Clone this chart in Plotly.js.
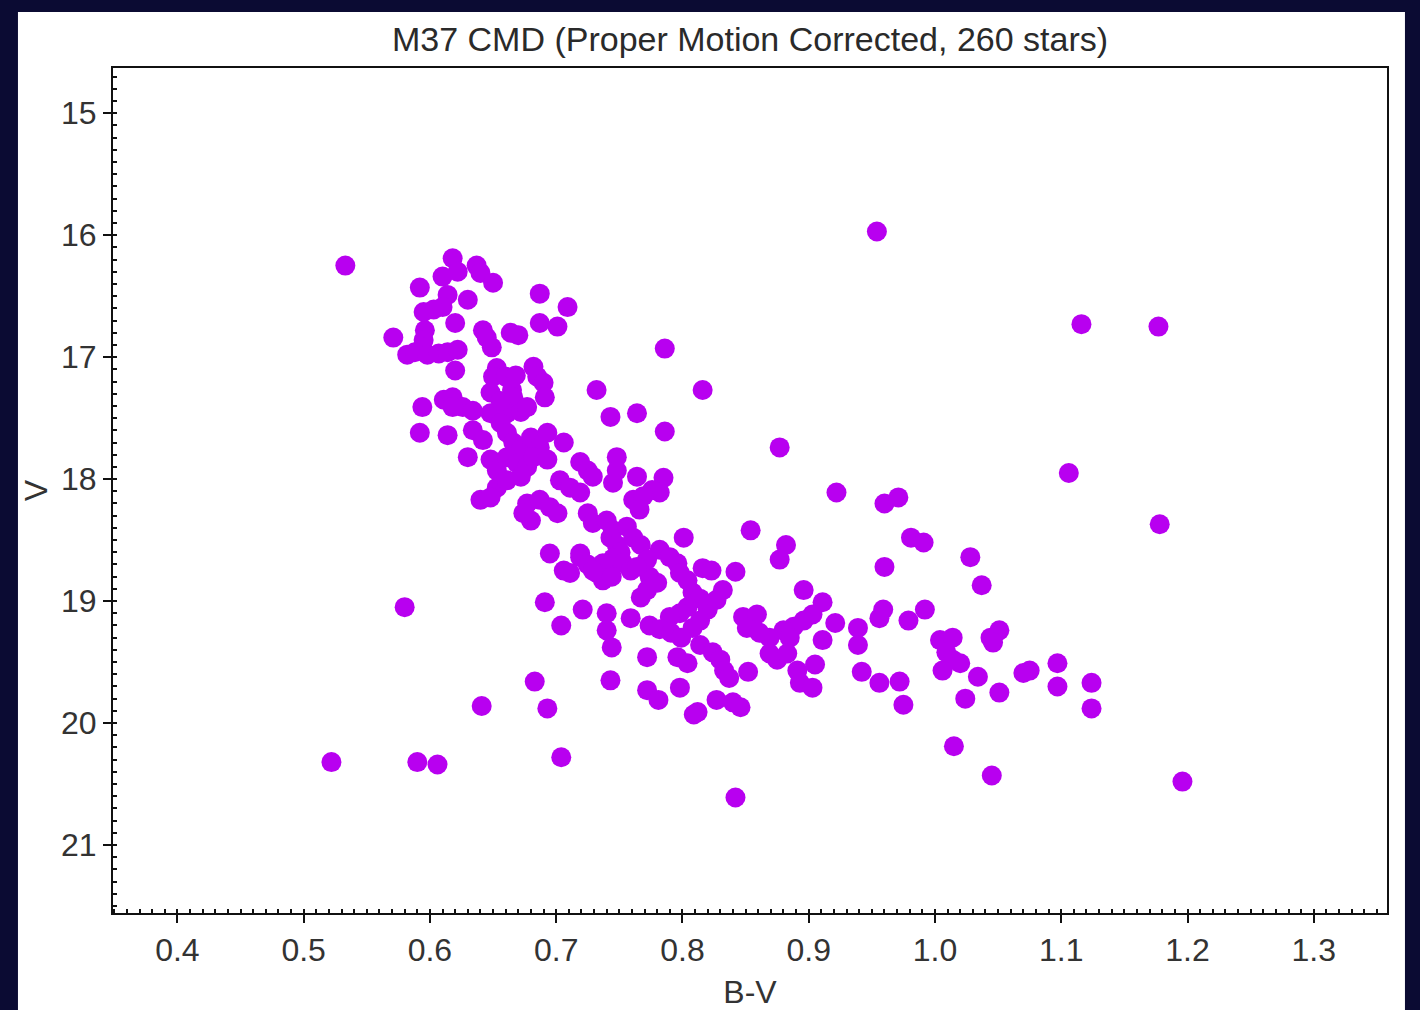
<!DOCTYPE html>
<html>
<head>
<meta charset="utf-8">
<script src="https://cdn.plot.ly/plotly-3.0.1.min.js"></script>
<style>
html,body{margin:0;padding:0;background:#0b0b33;}
#chart{width:1420px;height:1010px;}
</style>
</head>
<body>
<div id="chart"></div>
<script>
// B-V colour index of each star
var bv = [
0.618,0.622,0.637,0.640,0.650,0.610,0.592,0.614,0.630,0.610,0.603,0.595,0.687,0.709,0.620,0.687,0.701,0.642,0.645,0.649,
0.664,0.670,0.571,0.596,0.595,0.594,0.582,0.588,0.598,0.607,0.614,0.622,0.620,0.653,0.650,0.660,0.668,0.682,0.685,0.690,
0.691,0.648,0.665,0.666,0.594,0.611,0.618,0.626,0.618,0.648,0.661,0.672,0.677,
0.732,0.656,0.634,0.656,0.614,0.634,0.642,0.661,0.666,0.672,0.680,0.687,0.693,0.706,0.743,0.764,0.630,0.648,0.653,0.658,
0.661,0.669,0.677,0.672,0.682,0.693,0.719,0.725,0.729,0.748,0.748,0.745,0.764,0.703,0.711,0.719,0.653,0.661,0.640,0.648,
0.677,0.687,0.695,0.701,0.680,0.674,0.725,0.729,0.740,0.745,0.756,0.761,0.695,0.719,0.592,
0.785,0.782,0.776,0.769,0.766,0.761,0.767,0.743,0.748,0.751,0.745,0.753,0.759,0.737,0.732,0.737,0.744,0.719,0.725,0.729,
0.706,0.711,
0.816,0.823,0.832,0.827,0.820,0.814,0.808,0.808,0.814,0.804,0.798,0.790,0.848,0.859,0.851,0.814,0.824,0.830,0.833,0.837,
0.827,0.840,0.846,0.812,0.801,0.782,0.790,0.796,0.798,0.804,0.774,0.780,0.772,0.767,0.772,0.764,
0.721,0.740,0.740,0.744,0.759,0.774,0.782,0.791,0.799,0.772,0.796,0.804,0.743,0.772,0.781,0.798,0.809,
0.992,0.979,1.004,1.014,1.009,1.014,1.006,1.020,1.051,1.044,1.046,1.034,1.051,1.024,1.075,1.070,1.097,1.097,1.124,1.124,
0.959,0.956,0.939,0.939,0.942,0.956,0.972,0.975,0.921,0.911,0.911,0.896,0.903,0.896,0.888,0.880,0.885,0.869,0.861,0.875,
0.869,0.883,0.891,0.905,0.893,0.903,0.852,0.842,
0.533,0.954,1.116,1.177,0.786,0.816,0.877,1.106,0.922,1.178,0.960,0.971,0.854,0.960,0.981,0.991,1.028,1.037,0.580,0.522,
0.590,0.606,0.641,0.683,0.693,0.704,0.691,0.704,0.842,1.015,1.045,1.196,0.786,0.882,0.877
];
// V magnitude of each star
var vmag = [
16.19,16.30,16.25,16.31,16.39,16.34,16.43,16.49,16.53,16.59,16.61,16.63,16.48,16.59,16.72,16.72,16.75,16.78,16.84,16.92,
16.80,16.82,16.84,16.78,16.86,16.92,16.98,16.96,16.98,16.97,16.96,16.94,17.11,17.09,17.16,17.16,17.15,17.08,17.16,17.21,
17.33,17.29,17.27,17.33,17.41,17.35,17.33,17.41,17.41,17.46,17.46,17.45,17.41,
17.27,17.36,17.44,17.54,17.64,17.60,17.68,17.62,17.70,17.76,17.66,17.74,17.62,17.70,17.49,17.46,17.82,17.84,17.93,18.01,
17.82,17.87,17.90,17.98,17.82,17.84,17.86,17.93,17.98,17.82,17.93,18.03,17.98,18.01,18.07,18.11,18.07,18.01,18.17,18.15,
18.20,18.17,18.23,18.28,18.34,18.28,18.28,18.36,18.34,18.42,18.39,18.17,18.61,18.61,17.62,
17.99,18.11,18.09,18.14,18.25,18.48,18.54,18.48,18.54,18.60,18.65,18.69,18.75,18.69,18.77,18.83,18.80,18.64,18.70,18.75,
18.75,18.77,
18.73,18.75,18.91,18.99,19.07,19.16,19.22,18.93,18.98,19.05,19.10,19.13,19.13,19.11,19.22,19.36,19.42,19.48,19.57,19.63,
19.81,19.83,19.87,19.91,18.48,18.58,18.64,18.69,18.77,18.83,18.80,18.85,18.91,18.97,18.66,18.72,
19.07,19.10,19.24,19.38,19.14,19.20,19.23,19.26,19.30,19.46,19.46,19.51,19.65,19.73,19.81,19.71,19.93,
19.07,19.16,19.32,19.30,19.42,19.48,19.57,19.51,19.24,19.30,19.34,19.62,19.75,19.80,19.57,19.59,19.51,19.70,19.67,19.88,
19.07,19.14,19.22,19.36,19.58,19.67,19.66,19.85,19.18,19.32,19.01,18.91,19.11,19.16,19.21,19.24,19.30,19.30,19.26,19.48,
19.43,19.43,19.57,19.52,19.67,19.71,19.58,18.76,
16.25,15.97,16.73,16.75,16.93,17.27,17.74,17.95,18.11,18.37,18.20,18.15,18.42,18.72,18.48,18.52,18.64,18.87,19.05,20.32,
20.32,20.34,19.86,19.66,19.88,20.28,19.01,19.20,20.61,20.19,20.43,20.48,17.61,18.54,18.66
];
var chartTitle = 'M37 CMD (Proper Motion Corrected, 260 stars)';
var xTitle = 'B-V';
var yTitle = 'V';
var xTicks = [0.4,0.5,0.6,0.7,0.8,0.9,1.0,1.1,1.2,1.3];
var yTicks = [15,16,17,18,19,20,21];

var fontFam = 'Liberation Sans, Arial, sans-serif';

var trace = {
  type: 'scatter', mode: 'markers',
  x: bv, y: vmag,
  marker: {size: 20, color: '#b800f0', line: {width: 0}},
  hoverinfo: 'x+y'
};

var layout = {
  width: 1420, height: 1010,
  margin: {l: 113, r: 33, t: 68, b: 97},
  paper_bgcolor: '#0b0b33',
  plot_bgcolor: '#ffffff',
  showlegend: false,
  font: {family: fontFam, color: '#333', size: 32},
  title: {
    text: chartTitle,
    font: {family: fontFam, size: 34, color: '#2a2a2a'},
    x: 0.5, xref: 'paper', xanchor: 'center',
    y: 1 - 39/1010, yref: 'container', yanchor: 'middle'
  },
  shapes: [{
    type: 'rect', xref: 'paper', yref: 'paper', layer: 'below',
    x0: -0.0746, x1: 1.0141, y0: -0.12, y1: 1.0663,
    fillcolor: '#ffffff', line: {width: 0}
  }],
  xaxis: {
    range: [0.349, 1.358],
    tickvals: xTicks, tickformat: '.1f',
    ticks: 'outside', ticklen: 8, tickwidth: 2, tickcolor: '#111',
    minor: {dtick: 0.01, tick0: 0.4, ticks: 'inside', ticklen: 4, tickwidth: 1.5, tickcolor: '#111', showgrid: false},
    showline: true, linecolor: '#111', linewidth: 2, mirror: true,
    showgrid: false, zeroline: false,
    tickfont: {family: fontFam, size: 32, color: '#333'},
    title: {text: xTitle, font: {family: fontFam, size: 32, color: '#333'}, standoff: 23},
    automargin: false
  },
  yaxis: {
    range: [21.557, 14.63],
    tickvals: yTicks,
    ticks: 'outside', ticklen: 8, tickwidth: 2, tickcolor: '#111',
    minor: {dtick: 0.1, tick0: 15, ticks: 'inside', ticklen: 4, tickwidth: 1.5, tickcolor: '#111', showgrid: false},
    showline: true, linecolor: '#111', linewidth: 2, mirror: true,
    showgrid: false, zeroline: false,
    tickfont: {family: fontFam, size: 32, color: '#333'},
    title: {text: yTitle, font: {family: fontFam, size: 32, color: '#333'}, standoff: 4},
    automargin: false
  }
};

Plotly.newPlot('chart', [trace], layout, {displayModeBar: false});
</script>
</body>
</html>
